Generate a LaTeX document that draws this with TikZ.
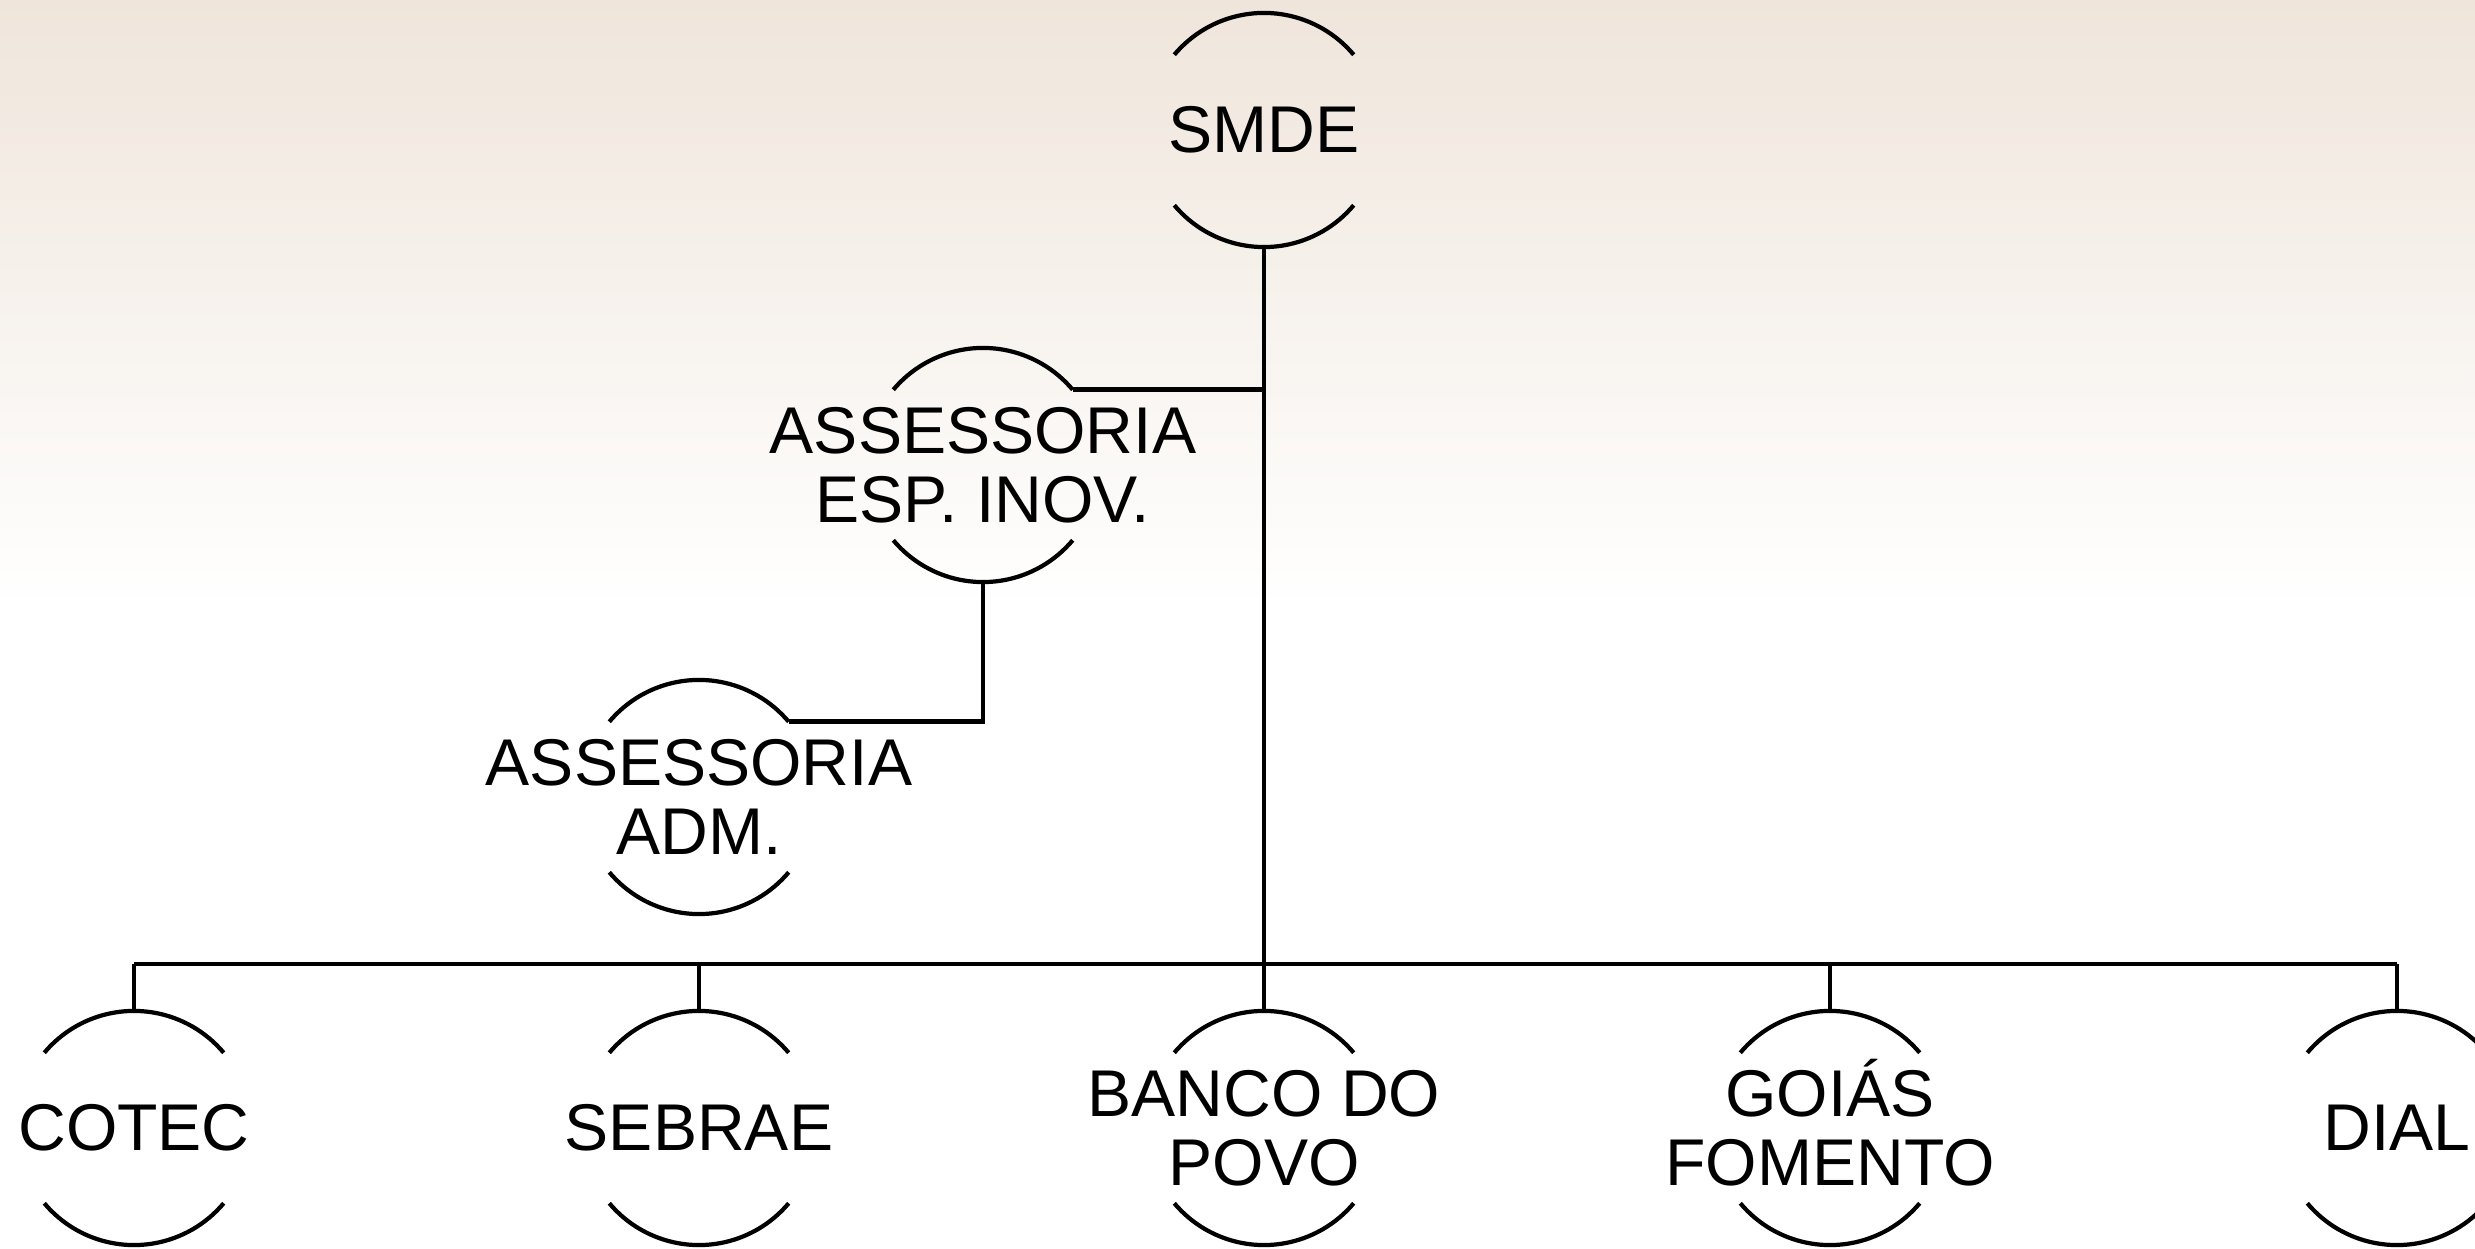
\documentclass[tikz,border=0pt]{standalone}
\usepackage{fontspec}
\setmainfont{Liberation Sans}
\usepackage{tikz}
\definecolor{bgtop}{RGB}{239,229,219}
\newcommand{\orgfont}{\fontsize{18.8pt}{19.7pt}\selectfont}
\newcommand{\orgarcs}[1]{%
  \draw [arcline] (#1.140) arc [start angle=140, end angle=40, radius=1.17cm];
  \draw [arcline] (#1.220) arc [start angle=220, end angle=320, radius=1.17cm];}
\tikzset{
  orgbox/.style={circle, minimum size=2.34cm, inner sep=0pt, outer sep=0pt},
  orgtext/.style={font=\orgfont, align=center},
  arcline/.style={line width=1.2pt},
  link/.style={line width=1.4pt}
}

\begin{document}
\begin{tikzpicture}[x=0.01cm, y=0.01cm]
         \useasboundingbox (0, 0) rectangle (2475, 1248);
         \fill [top color=bgtop, bottom color=white] (0, 640) rectangle (2475, 1248);
         \node [orgbox, label={[orgtext]center:SMDE}] (TOP) at (1264, 1118) {};
         \node [orgbox, label={[orgtext]center:ASSESSORIA\\ESP. INOV.}] (AS1) at (983, 783) {};
         \node [orgbox, label={[orgtext]center:ASSESSORIA\\ADM.}] (AS2) at (699, 451) {};
         \node [orgbox, label={[orgtext]center:COTEC}] (B1) at (134, 120) {};
         \node [orgbox, label={[orgtext]center:SEBRAE}] (B2) at (699, 120) {};
         \node [orgbox, label={[orgtext]center:BANCO DO\\POVO}] (B3) at (1264, 120) {};
         \node [orgbox, label={[orgtext]center:GOI\smash{Á}S\\FOMENTO}] (B4) at (1830, 120) {};
         \node [orgbox, label={[orgtext]center:DIAL}] (B5) at (2397, 120) {};
         \coordinate (BUS) at (1264, 284);
         \orgarcs{TOP} \orgarcs{AS1} \orgarcs{AS2}
         \orgarcs{B1} \orgarcs{B2} \orgarcs{B3} \orgarcs{B4} \orgarcs{B5}
         \draw [link] (TOP.south) -- (BUS);
         \draw [link] (AS1.40) -- (AS1.40 -| TOP.south);
         \draw [link] (AS2.40) -| (AS1.south);
         \draw [link] (B1.north |- BUS) -- (B5.north |- BUS);
         \draw [link] (B1.north) -- (B1.north |- BUS);
         \draw [link] (B2.north) -- (B2.north |- BUS);
         \draw [link] (B3.north) -- (BUS);
         \draw [link] (B4.north) -- (B4.north |- BUS);
         \draw [link] (B5.north) -- (B5.north |- BUS);
 \end{tikzpicture}
\end{document}
